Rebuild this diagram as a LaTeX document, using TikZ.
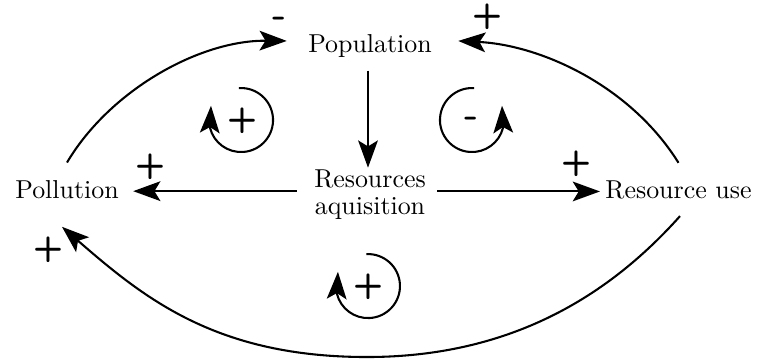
\documentclass[tikz,border=0pt]{standalone}
\usetikzlibrary{arrows.meta,calc}
\begin{document}
\begin{tikzpicture}[x=0.386pt,y=0.386pt,
  lbl/.style={inner sep=0pt},
  sgn/.style={inner sep=0pt,font=\sffamily\bfseries\fontsize{13.5}{16}\selectfont},
  msgn/.style={inner sep=0pt,font=\sffamily\bfseries\fontsize{15}{18}\selectfont},
  arr/.style={-{Stealth[length=10.5pt,width=7.6pt,inset=2.3pt]},line width=0.8pt}]
\useasboundingbox (0,0) rectangle (757,-363);
% nodes
\node[lbl,anchor=base] (pop) at (370,-52) {Population};
\node[lbl,align=center] (res) at (370,-195) {Resources\\[-1.6pt]aquisition};
\node[lbl,anchor=base] (pol) at (67,-198) {Pollution};
\node[lbl,anchor=base] (ru) at (678.5,-198) {Resource use};
% straight connectors
\draw[arr] ($(pop.south)+(-2,-13)$) -- ($(res.north)+(-2,2)$);
\draw[arr] ($(res.west |- pol.east)+(-17,-2)$) -- ($(pol.east)+(14,-2)$);
\draw[arr] ($(res.east |- ru.west)+(11,-2)$) -- ($(ru.west)+(-5,-2)$);
% curved connectors
\draw[arr] ($(pol.north)+(0,17)$) .. controls (110,-90) and (200,-40) .. ($(pop.west)+(-21,4.6)$);
\draw[arr] ($(ru.north)+(0,17)$) .. controls (630,-85) and (540,-45) .. ($(pop.east)+(26,4.6)$);
\draw[arr] ($(ru.south)+(1.5,-17)$) .. controls (614,-290) and (517,-357) .. (367,-357)
   .. controls (217,-357) and (145,-299) .. ($(pol.south)+(-5,-28)$);
% signs
\node[msgn] (s1) at (280,-22) {-};
\node[sgn] (s2) at (487,-17) {+};
\node[sgn] (s3) at (150,-167) {+};
\node[sgn] (s4) at (576,-164) {+};
\node[sgn] (s5) at (48,-250) {+};
\node[sgn] (l1) at (242,-121) {+};
\node[msgn] (l2) at (472,-122) {-};
\node[sgn] (l3) at (368,-287) {+};
% loop symbols
\draw[arr] (238.8,-88.1) arc[start angle=94,end angle=-166,radius=32] -- ++(1,22);
\draw[arr] (474.2,-88.1) arc[start angle=86,end angle=346,radius=32] -- ++(-1,22);
\draw[arr] (366.3,-254.1) arc[start angle=93,end angle=-166,radius=32] -- ++(1,22);
\end{tikzpicture}
\end{document}
